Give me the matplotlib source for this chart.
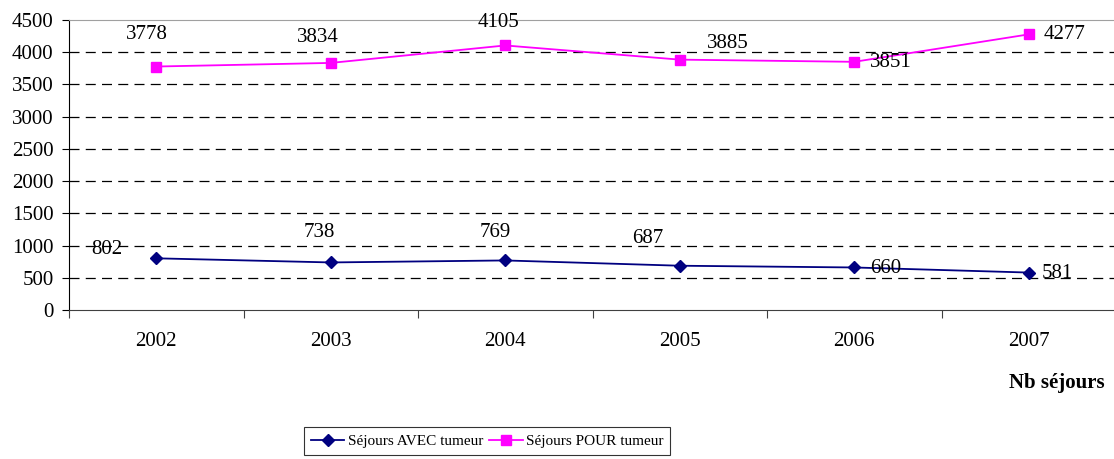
from matplotlib import pyplot as plt
import numpy as np

years = ['2002', '2003', '2004', '2005', '2006', '2007']
avec_tumeur = [802, 738, 769, 687, 660, 581]
pour_tumeur = [3778, 3834, 4105, 3885, 3851, 4277]

# label offsets in pixels (dx, dy)
avec_offsets = [(-49, 9), (-11, 30), (-10, 28), (-32, 27), (31, -1), (29, -1)]
pour_offsets = [(-9, 32), (-13, 25), (-7, 23), (48, 16), (37, -1), (36, 0)]

plt.rcParams['font.family'] = ['Liberation Serif', 'DejaVu Serif']

fig = plt.figure(figsize=(11.14, 4.59), dpi=100)
ax = fig.add_axes([69 / 1114, 1 - 310 / 459, (1116 - 69) / 1114, 290 / 459])

x = np.arange(len(years))
ax.plot(x, avec_tumeur, color='#000080', marker='D', markersize=6.5, linewidth=1.3,
        label='Séjours AVEC tumeur')
ax.plot(x, pour_tumeur, color='#FF00FF', marker='s', markersize=7.5, linewidth=1.3,
        label='Séjours POUR tumeur')

for xi, v, off in zip(x, avec_tumeur, avec_offsets):
    ax.annotate(str(v), (xi, v), xytext=off, textcoords='offset pixels',
                ha='center', va='center', fontsize=15)
for xi, v, off in zip(x, pour_tumeur, pour_offsets):
    ax.annotate(str(v), (xi, v), xytext=off, textcoords='offset pixels',
                ha='center', va='center', fontsize=15)

ax.set_xlim(-0.5, len(years) - 0.5)
ax.set_ylim(0, 4500)
ax.set_yticks(np.arange(0, 4501, 500))
ax.set_xticks(np.arange(-0.5, len(years), 1.0))
ax.set_xticklabels([])
ax.set_xticks(x, minor=True)
ax.set_xticklabels(years, minor=True)
ax.tick_params(axis='x', which='minor', length=0, pad=16, labelsize=15)
ax.tick_params(axis='x', which='major', length=6, direction='out', color='#404040')
ax.tick_params(axis='y', length=5, direction='out', labelsize=15, pad=6)

for yv in np.arange(500, 4500, 500):
    ax.axhline(yv, color='black', linestyle=(0, (8, 5)), linewidth=0.9, zorder=0)

ax.spines['right'].set_visible(False)
ax.spines['top'].set_color('#a0a0a0')
ax.spines['left'].set_color('black')
ax.spines['bottom'].set_color('#404040')

fig.text(1105 / 1114, 1 - 383 / 459, 'Nb séjours', ha='right', va='center',
         fontsize=15, fontweight='bold')

leg = fig.legend(loc='center', bbox_to_anchor=(487 / 1114, 1 - 441 / 459), ncol=2,
                 frameon=True, fancybox=False, edgecolor='black', fontsize=11,
                 handlelength=2.2, handletextpad=0.2, columnspacing=0.4,
                 borderpad=0.45)
leg.get_frame().set_linewidth(0.8)

fig.savefig('out.png', dpi=100)
